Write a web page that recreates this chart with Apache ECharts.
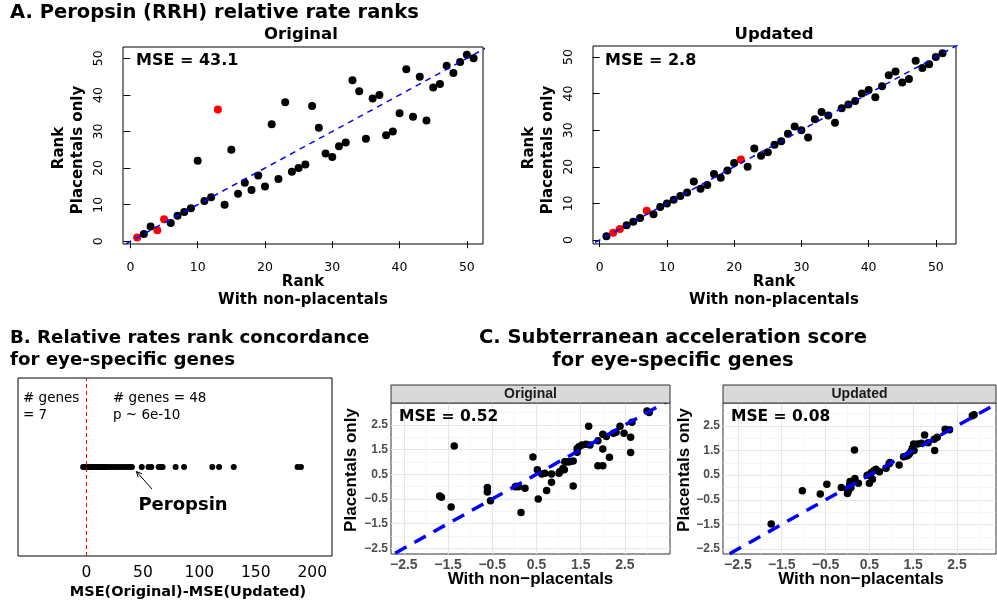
<!DOCTYPE html>
<html>
<head>
<meta charset="utf-8">
<script src="https://cdn.jsdelivr.net/npm/echarts@6/dist/echarts.min.js"></script>
<style>
  html, body { margin: 0; padding: 0; background: #ffffff; }
  #chart { width: 997px; height: 602px; }
</style>
</head>
<body>
<div id="chart"></div>
<script>
// ---------- Panel A: peropsin (RRH) relative-rate ranks ----------
const rankWithNonPlacentals = [1, 2, 3, 4, 5, 6, 7, 8, 9, 10, 11, 12, 13, 14, 15, 16, 17,
  18, 19, 20, 21, 22, 23, 24, 25, 26, 27, 28, 29, 30, 31, 32, 33, 34, 35, 36, 37, 38, 39,
  40, 41, 42, 43, 44, 45, 46, 47, 48, 49, 50, 51];
const rankPlacentalsOriginal = [1, 2, 4, 3, 6, 5, 7, 8, 9, 22, 11, 12, 36, 10, 25, 13, 16,
  14, 18, 15, 32, 17, 38, 19, 20, 21, 37, 31, 24, 23, 26, 27, 44, 41, 28, 39, 40, 29, 30,
  35, 47, 34, 45, 33, 42, 43, 48, 46, 49, 51, 50];
const rankPlacentalsUpdated = [1, 2, 3, 4, 5, 6, 8, 7, 9, 10, 11, 12, 13, 16, 14, 15, 18,
  17, 19, 21, 22, 20, 25, 23, 24, 26, 27, 29, 31, 30, 28, 33, 35, 34, 32, 36, 37, 38, 40,
  41, 39, 42, 45, 46, 43, 44, 49, 47, 48, 50, 51];
const redRanksOriginal = [1, 4, 5, 13];   // x-ranks drawn in red
const redRanksUpdated = [2, 3, 7, 21];
const mseRankOriginal = 43.1;
const mseRankUpdated = 2.8;
const rankTicks = [0, 10, 20, 30, 40, 50];

// ---------- Panel B: MSE(Original) - MSE(Updated) per eye-specific gene ----------
const mseDifference = [-2.9, -2.1, -1.6, -1.2, -0.8, -0.5, -0.2,
  0.3, 0.8, 1.2, 1.7, 2.1, 2.6, 3.0, 3.5, 4.1, 4.6, 5.2, 5.8, 6.5, 7.1, 7.8, 8.4, 9.2,
  10.0, 10.9, 11.8, 12.7, 13.8, 14.9, 16.1, 18.0, 20.2, 22.5, 25.1, 27.4, 29.8, 32.3,
  34.5, 36.8, 38.9, 40.3, 49.0, 55.0, 57.5, 64.0, 66.0, 67.5, 79.0, 86.5, 111.5, 117.5,
  130.5, 187.0, 190.0];
const genesBelowZero = 7;
const genesAboveZero = 48;
const concordanceP = '6e-10';
const diffTicks = [0, 50, 100, 150, 200];

// ---------- Panel C: subterranean acceleration score ----------
const scoreOriginal = [[3.00, 3.07], [3.05, 3.01], [2.66, 2.61], [2.39, 2.45], [2.30, 2.20],
  [2.24, 2.16], [2.08, 2.03], [2.00, 2.12], [2.48, 2.16], [2.63, 2.00], [2.63, 1.38],
  [2.15, 1.19], [2.00, 1.53], [1.89, 1.86], [1.89, 0.85], [2.00, 0.85], [1.68, 2.45],
  [1.42, 1.55], [1.42, 1.39], [1.46, 1.62], [1.53, 1.69], [1.62, 1.72], [1.71, 1.69],
  [1.25, 1.01], [1.33, 1.04], [1.19, 1.00], [1.14, 1.01], [1.10, 0.74], [1.13, 0.68],
  [1.01, 0.54], [1.03, 0.61], [0.84, 0.51], [0.84, 0.18], [0.73, -0.16], [1.33, 0.03],
  [0.62, 0.51], [0.69, 0.54], [0.52, 0.68], [0.42, 1.20], [0.54, -0.50], [0.24, -0.07],
  [0.15, -1.05], [0.09, 0.00], [0.02, 0.00], [0.05, 0.02], [-0.54, -0.57], [-0.61, -0.03],
  [-0.61, -0.22], [-1.43, -0.83], [-1.36, 1.65], [-1.69, -0.38], [-1.65, -0.43]];
const scoreUpdated = [[2.85, 2.91], [2.89, 2.95], [2.33, 2.34], [2.23, 2.36], [2.05, 2.04],
  [1.98, 1.96], [1.99, 1.50], [1.76, 2.13], [1.84, 1.82], [1.69, 1.80], [1.60, 1.77],
  [1.51, 1.77], [1.48, 1.59], [1.45, 1.46], [1.41, 1.36], [1.35, 1.28], [1.28, 1.25],
  [1.52, 1.50], [1.38, 1.31], [1.18, 0.91], [0.97, 1.01], [0.95, 0.96], [0.88, 0.78],
  [0.73, 0.64], [0.65, 0.74], [0.60, 0.68], [0.54, 0.60], [0.45, 0.50], [0.57, 0.33],
  [0.50, 0.17], [0.16, 1.52], [0.17, 0.37], [0.25, 0.17], [0.06, 0.24], [0.05, 0.10],
  [0.00, -0.07], [0.00, -0.24], [0.08, 0.00], [0.02, -0.15], [-0.14, 0.00], [-0.47, 0.13],
  [-0.62, -0.26], [-1.03, -0.13], [-1.74, -1.48]];
const mseScoreOriginal = 0.52;
const mseScoreUpdated = 0.08;
const scoreTicks = [-2.5, -1.5, -0.5, 0.5, 1.5, 2.5];
const scoreMinorTicks = [-2, -1, 0, 1, 2, 3];

// ---------- layout ----------
const BASE = 'DejaVu Sans';
const GG = 'Liberation Sans';
const box = {
  a1: { left: 123, top: 47, width: 360, height: 197 },
  a2: { left: 593, top: 46, width: 363, height: 198 },
  b:  { left: 18,  top: 378, width: 314, height: 178 },
  c1: { left: 391, top: 403, width: 279, height: 151 },
  c2: { left: 723, top: 403, width: 273, height: 151 }
};

function gridOf(b, border) {
  return Object.assign({ show: true, borderColor: border, borderWidth: 1,
    backgroundColor: 'transparent', containLabel: false, outerBoundsMode: 'none' }, b);
}

// Base-graphics style axis: outward ticks, plain labels
function baseAxis(gi, min, max, ticks, rotate, margin) {
  return {
    type: 'value', gridIndex: gi, min: min, max: max,
    axisLine: { show: false },
    axisTick: { show: true, customValues: ticks, length: 7, lineStyle: { color: '#000', width: 1 } },
    axisLabel: { customValues: ticks, rotate: rotate, margin: margin, color: '#000',
      fontFamily: BASE, fontSize: 12.5, formatter: v => String(v) },
    splitLine: { show: false }
  };
}

const minus = v => (v < 0 ? '\u2212' : '') + Math.abs(v).toFixed(1);
function ggAxis(gi, min, max, size, margin) {
  return {
    type: 'value', gridIndex: gi, min: min, max: max,
    axisLine: { show: false }, axisTick: { show: false },
    axisLabel: { customValues: scoreTicks, margin: margin, color: '#4D4D4D',
      fontFamily: GG, fontWeight: 'bold', fontSize: size, formatter: minus },
    splitLine: { show: false }
  };
}

function rankPoints(ys, reds) {
  return rankWithNonPlacentals.map((x, i) => ({
    value: [x, ys[i]],
    itemStyle: { color: reds.indexOf(x) >= 0 ? '#FF0000' : '#000000', opacity: 1 }
  }));
}

function identityLine(gi, lo, hi, width, dash) {
  return {
    type: 'line', xAxisIndex: gi, yAxisIndex: gi, data: [[lo, lo], [hi, hi]],
    symbol: 'none', clip: true, silent: true, z: 4,
    lineStyle: { color: '#0000FF', width: width, type: dash }
  };
}

// light panel grid for the score facets, kept underneath the points
function ggGrid(gi) {
  const line = (key, v, w, c) => ({ [key]: v, lineStyle: { width: w, color: c, type: 'solid' } });
  const data = []
    .concat(scoreMinorTicks.map(v => line('xAxis', v, 0.6, '#F0F0F0')))
    .concat(scoreMinorTicks.map(v => line('yAxis', v, 0.6, '#F0F0F0')))
    .concat(scoreTicks.map(v => line('xAxis', v, 1.1, '#E6E6E6')))
    .concat(scoreTicks.map(v => line('yAxis', v, 1.1, '#E6E6E6')));
  return {
    type: 'scatter', xAxisIndex: gi, yAxisIndex: gi, data: [], z: 1, silent: true,
    markLine: { silent: true, z: 1, symbol: ['none', 'none'], label: { show: false },
      emphasis: { disabled: true }, animation: false, data: data }
  };
}

function ggPoints(gi, pts) {
  return { type: 'scatter', xAxisIndex: gi, yAxisIndex: gi, data: pts, symbolSize: 7.5,
    itemStyle: { color: '#000000', opacity: 1 }, z: 3, silent: true };
}

function txt(x, y, s, opt) {
  return {
    type: 'text', x: x, y: y, rotation: opt.rot || 0, z: 10, silent: true,
    style: { text: s, x: 0, y: 0, fill: opt.color || '#000',
      fontFamily: opt.family || BASE, fontWeight: opt.bold ? 'bold' : 'normal',
      fontSize: opt.size, textAlign: opt.align || 'center', textVerticalAlign: 'middle' }
  };
}

const graphics = [
  // titles
  txt(10, 13, 'A. Peropsin (RRH) relative rate ranks', { size: 19.5, bold: true, align: 'left' }),
  txt(301, 35, 'Original', { size: 16.5, bold: true }),
  txt(774, 35, 'Updated', { size: 16.5, bold: true }),
  txt(10, 338, 'B. Relative rates rank concordance', { size: 18.2, bold: true, align: 'left' }),
  txt(10, 360, 'for eye-specific genes', { size: 18.2, bold: true, align: 'left' }),
  txt(673, 338, 'C. Subterranean acceleration score', { size: 19.5, bold: true }),
  txt(673, 361, 'for eye-specific genes', { size: 19.5, bold: true }),
  // panel A annotations and axis titles
  txt(136, 61, 'MSE = ' + mseRankOriginal, { size: 16, bold: true, align: 'left' }),
  txt(605, 61, 'MSE = ' + mseRankUpdated, { size: 16, bold: true, align: 'left' }),
  txt(59, 148, 'Rank', { size: 15, bold: true, rot: Math.PI / 2 }),
  txt(78, 150, 'Placentals only', { size: 15, bold: true, rot: Math.PI / 2 }),
  txt(529, 148, 'Rank', { size: 15, bold: true, rot: Math.PI / 2 }),
  txt(548, 150, 'Placentals only', { size: 15, bold: true, rot: Math.PI / 2 }),
  txt(303, 282, 'Rank', { size: 15, bold: true }),
  txt(303, 300, 'With non-placentals', { size: 15, bold: true }),
  txt(774, 282, 'Rank', { size: 15, bold: true }),
  txt(774, 300, 'With non-placentals', { size: 15, bold: true }),
  // panel B annotations
  txt(23, 398, '# genes', { size: 13.5, align: 'left' }),
  txt(23, 415, '= ' + genesBelowZero, { size: 13.5, align: 'left' }),
  txt(113, 398, '# genes = ' + genesAboveZero, { size: 13.5, align: 'left' }),
  txt(113, 415, 'p ~ ' + concordanceP, { size: 13.5, align: 'left' }),
  txt(183, 505, 'Peropsin', { size: 18, bold: true }),
  txt(188, 592, 'MSE(Original)-MSE(Updated)', { size: 14.5, bold: true }),
  // panel C facet strips
  { type: 'rect', z: 5, silent: true, shape: { x: box.c1.left, y: 385, width: box.c1.width, height: 18 },
    style: { fill: '#D9D9D9', stroke: '#333333', lineWidth: 1 } },
  { type: 'rect', z: 5, silent: true, shape: { x: box.c2.left, y: 385, width: box.c2.width, height: 18 },
    style: { fill: '#D9D9D9', stroke: '#333333', lineWidth: 1 } },
  txt(530.5, 394, 'Original', { size: 14, bold: true, family: GG, color: '#1A1A1A' }),
  txt(859.5, 394, 'Updated', { size: 14, bold: true, family: GG, color: '#1A1A1A' }),
  txt(399, 417, 'MSE = ' + mseScoreOriginal.toFixed(2), { size: 15.5, bold: true, align: 'left' }),
  txt(731, 417, 'MSE = ' + mseScoreUpdated.toFixed(2), { size: 15.5, bold: true, align: 'left' }),
  txt(351, 470, 'Placentals only', { size: 17, bold: true, family: GG, rot: Math.PI / 2 }),
  txt(684, 470, 'Placentals only', { size: 17, bold: true, family: GG, rot: Math.PI / 2 }),
  txt(530.5, 579, 'With non\u2212placentals', { size: 17, bold: true, family: GG }),
  txt(861, 579, 'With non\u2212placentals', { size: 17, bold: true, family: GG })
];

const option = {
  animation: false,
  backgroundColor: '#ffffff',
  grid: [gridOf(box.a1, '#000'), gridOf(box.a2, '#000'), gridOf(box.b, '#000'),
         gridOf(box.c1, '#333333'), gridOf(box.c2, '#333333')],
  xAxis: [
    baseAxis(0, -1.1, 52.4, rankTicks, 0, 17),
    baseAxis(1, -1.0, 53.0, rankTicks, 0, 17),
    { type: 'value', gridIndex: 2, min: -60.6, max: 217.5,
      axisLine: { show: false }, axisTick: { show: false }, splitLine: { show: false },
      axisLabel: { customValues: diffTicks, margin: 9, color: '#000', fontFamily: BASE, fontSize: 15.5 } },
    ggAxis(3, -2.79, 3.52, 14, 4),
    ggAxis(4, -2.84, 3.39, 14, 4)
  ],
  yAxis: [
    baseAxis(0, -0.75, 53.1, rankTicks, 90, 18),
    baseAxis(1, -1.1, 53.0, rankTicks, 90, 18),
    { type: 'value', gridIndex: 2, min: -1, max: 1, show: false },
    ggAxis(3, -2.73, 3.39, 12, 3),
    ggAxis(4, -2.70, 3.43, 12, 3)
  ],
  series: [
    { type: 'scatter', xAxisIndex: 0, yAxisIndex: 0, symbolSize: 8, z: 3, silent: true,
      data: rankPoints(rankPlacentalsOriginal, redRanksOriginal) },
    identityLine(0, -5, 60, 1.5, [6, 5]),
    { type: 'scatter', xAxisIndex: 1, yAxisIndex: 1, symbolSize: 8, z: 3, silent: true,
      data: rankPoints(rankPlacentalsUpdated, redRanksUpdated) },
    identityLine(1, -5, 60, 1.5, [6, 5]),
    { type: 'scatter', xAxisIndex: 2, yAxisIndex: 2, symbolSize: 6, z: 3, silent: true,
      itemStyle: { color: '#000000', opacity: 1 },
      data: mseDifference.map(v => [v, 0]),
      markLine: { silent: true, symbol: ['none', 'none'], label: { show: false }, animation: false,
        lineStyle: { color: '#FF0000', width: 1, type: [4, 3] }, data: [{ xAxis: 0 }] } },
    ggGrid(3), ggPoints(3, scoreOriginal), identityLine(3, -4, 4, 3.5, [13, 9]),
    ggGrid(4), ggPoints(4, scoreUpdated), identityLine(4, -4, 4, 3.5, [13, 9])
  ],
  graphic: graphics
};

const chart = echarts.init(document.getElementById('chart'), null, { renderer: 'canvas' });
chart.setOption(option);

// arrow from the "Peropsin" label to its point in panel B
const peropsinDiff = +(mseRankOriginal - mseRankUpdated).toFixed(1);
const tip = chart.convertToPixel({ gridIndex: 2 }, [peropsinDiff, 0]);
const tx = tip[0] + 4.5, ty = tip[1] + 4.5;
const sx = tip[0] + 20, sy = tip[1] + 22;
const ang = Math.atan2(ty - sy, tx - sx);
const head = 6, spread = 0.45;
graphics.push(
  { type: 'line', z: 10, silent: true, shape: { x1: sx, y1: sy, x2: tx, y2: ty },
    style: { stroke: '#000', lineWidth: 1 } },
  { type: 'polyline', z: 10, silent: true,
    shape: { points: [
      [tx - head * Math.cos(ang - spread), ty - head * Math.sin(ang - spread)],
      [tx, ty],
      [tx - head * Math.cos(ang + spread), ty - head * Math.sin(ang + spread)]
    ] },
    style: { stroke: '#000', lineWidth: 1, fill: null } }
);
chart.setOption({ graphic: graphics });
</script>
</body>
</html>
